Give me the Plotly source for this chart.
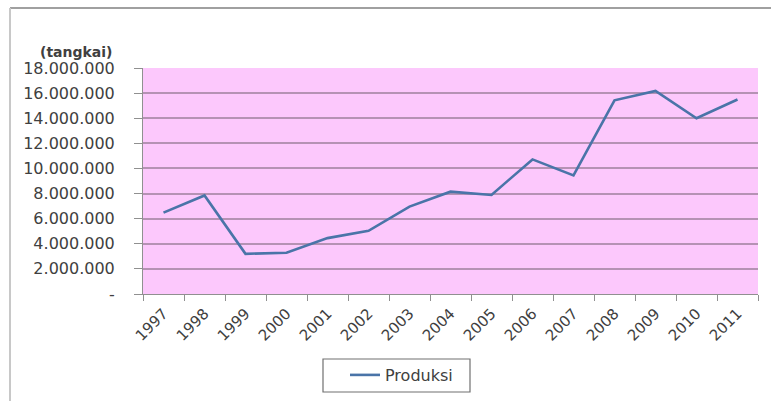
import plotly.graph_objects as go

years = ["1997", "1998", "1999", "2000", "2001", "2002", "2003", "2004",
         "2005", "2006", "2007", "2008", "2009", "2010", "2011"]
produksi = [6480000, 7850000, 3200000, 3280000, 4450000, 5030000, 6960000, 8150000,
            7890000, 10720000, 9450000, 15430000, 16170000, 14000000, 15490000]
y_tickvals = [0, 2000000, 4000000, 6000000, 8000000, 10000000, 12000000,
              14000000, 16000000, 18000000]
y_ticktext = ["-", "2.000.000", "4.000.000", "6.000.000", "8.000.000", "10.000.000",
              "12.000.000", "14.000.000", "16.000.000", "18.000.000"]

W, H = 771, 401
L, R, T, B = 143, 758, 68, 294

def px(x):
    return (x - L) / (R - L)

def py(y):
    return (B - y) / (B - T)

fig = go.Figure()
fig.add_trace(go.Scatter(
    x=years, y=produksi, mode="lines", name="Produksi",
    line=dict(color="#4a74a8", width=2.6),
))

font_fam = "DejaVu Sans, sans-serif"
txt = "#404040"
fig.update_layout(
    width=W, height=H,
    margin=dict(l=L, r=W - R, t=T, b=H - B, pad=0, autoexpand=False),
    paper_bgcolor="white",
    plot_bgcolor="#fcc8fc",
    showlegend=True,
    legend=dict(
        orientation="h", x=px(345), xanchor="left", y=py(358), yanchor="top",
        borderwidth=0, bgcolor="rgba(0,0,0,0)",
        font=dict(family=font_fam, size=16, color=txt),
    ),
    font=dict(family=font_fam, size=14, color=txt),
)
fig.update_xaxes(
    type="category", tickson="boundaries", ticks="outside", ticklen=6,
    range=[-0.5, len(years) - 0.5],
    tickcolor="#909090", showline=True, linecolor="#909090", linewidth=1,
    showgrid=False, tickangle=-45, ticklabelstandoff=4,
    tickfont=dict(family=font_fam, size=15, color=txt),
)
fig.update_yaxes(
    range=[0, 18000000], tickvals=y_tickvals, ticktext=y_ticktext,
    ticks="outside", ticklen=8, tickcolor="#909090",
    showline=True, linecolor="#909090", linewidth=1,
    showgrid=True, gridcolor="#b592b4", gridwidth=1.5,
    zeroline=False,
    tickfont=dict(family=font_fam, size=16, color=txt),
    ticklabelstandoff=16,
)
fig.add_annotation(
    text="<b>(tangkai)</b>", xref="paper", yref="paper",
    x=px(76), y=py(52), xanchor="center", yanchor="middle",
    showarrow=False, font=dict(family=font_fam, size=14, color=txt),
)
# legend frame
fig.add_shape(type="rect", xref="paper", yref="paper",
              x0=px(323), x1=px(470), y0=py(359), y1=py(392),
              line=dict(color="#707070", width=1.2), fillcolor="rgba(0,0,0,0)")
# outer frame lines
fig.add_shape(type="line", xref="paper", yref="paper",
              x0=px(10), x1=px(771), y0=py(8), y1=py(8),
              line=dict(color="#a0a0a0", width=2))
fig.add_shape(type="line", xref="paper", yref="paper",
              x0=px(10), x1=px(10), y0=py(8), y1=py(401),
              line=dict(color="#c8c8c8", width=2))

fig.write_html("out.html")
